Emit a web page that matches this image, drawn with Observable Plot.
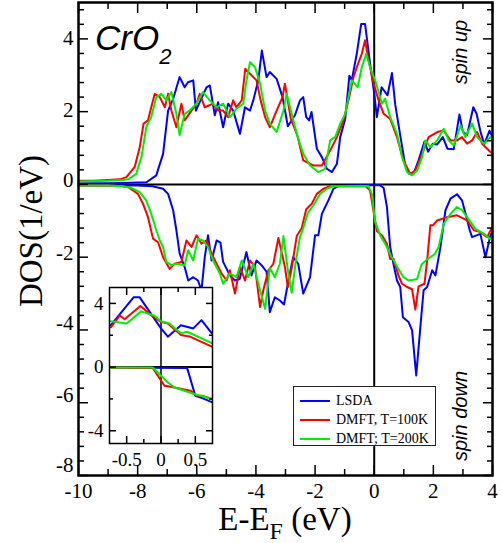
<!DOCTYPE html>
<html><head><meta charset="utf-8">
<script src="https://cdn.jsdelivr.net/npm/d3@7"></script>
<script src="https://cdn.jsdelivr.net/npm/@observablehq/plot@0.6"></script>
<style>
body{margin:0;background:#fff;color:#000;}
#wrap{position:relative;width:502px;height:543px;overflow:hidden;}
#wrap svg{position:absolute;}
.ov{position:absolute;white-space:nowrap;}
.serif{font-family:'Liberation Serif','Times New Roman',serif;}
.sans{font-family:'Liberation Sans',Arial,sans-serif;font-style:italic;}
</style></head><body><div id="wrap"></div>
<script>
// ---- series meta
const seriesNames = ["LSDA", "DMFT, T=100K", "DMFT; T=200K"];
const seriesColors = ["#0000ff", "#ff0000", "#00ee00"];

// ---- main panel: [E-E_F (eV), DOS (1/eV)]
const lsdaUp = [[-10,0.03],[-9,0.03],[-8.5,0.04],[-8,0.05],[-7.7,0.06],[-7.37,0.25],[-7.14,0.84],[-6.97,2.03],[-6.8,2.35],[-6.58,2.95],[-6.41,2.67],[-6.3,2.81],[-6.12,2.86],[-6.03,2.03],[-5.9,2.26],[-5.67,2.67],[-5.56,2.72],[-5.39,1.9],[-5.28,2.26],[-5.11,1.57],[-4.94,2.22],[-4.77,2.03],[-4.54,1.39],[-4.37,2.12],[-4.2,2.03],[-4.09,2.31],[-3.92,2.86],[-3.8,3.68],[-3.64,2.95],[-3.53,3.09],[-3.3,2.9],[-3.1,2.4],[-2.92,1.6],[-2.68,1.9],[-2.51,2.31],[-2.4,2.4],[-2.3,1.85],[-2.2,1.76],[-2.12,1.99],[-1.94,0.98],[-1.77,0.75],[-1.6,0.43],[-1.43,0.34],[-1.26,0.57],[-1.15,1.3],[-0.98,1.8],[-0.84,2.99],[-0.76,2.86],[-0.59,3.59],[-0.44,4.41],[-0.31,4.41],[-0.14,3.32],[0.0,2.5],[0.09,1.85],[0.25,2.67],[0.45,2.45],[0.6,3.06],[0.71,2.2],[0.88,1.35],[1.05,0.52],[1.18,0.29],[1.33,0.29],[1.5,0.66],[1.7,1.18],[1.82,0.9],[1.98,1.12],[2.13,1.1],[2.32,1.3],[2.48,0.98],[2.69,0.97],[2.88,1.92],[3.0,1.45],[3.14,1.35],[3.35,2.12],[3.46,1.95],[3.59,1.46],[3.72,1.1],[3.9,1.48],[4.0,1.3]];
const dmft100Up = [[-10,0.1],[-9.5,0.1],[-9,0.12],[-8.6,0.14],[-8.38,0.2],[-8.1,0.48],[-7.93,1.02],[-7.8,1.67],[-7.65,1.76],[-7.54,2.12],[-7.42,2.49],[-7.25,2.4],[-7.08,2.12],[-6.97,2.49],[-6.86,2.03],[-6.69,1.57],[-6.52,2.22],[-6.41,1.76],[-6.18,2.03],[-6.01,2.22],[-5.9,2.49],[-5.73,2.12],[-5.45,2.22],[-5.28,2.03],[-5.11,2.03],[-4.94,1.85],[-4.77,2.31],[-4.66,2.12],[-4.48,2.31],[-4.36,3.18],[-4.2,3.04],[-3.98,2.86],[-3.84,2.31],[-3.69,1.85],[-3.53,1.57],[-3.3,2.03],[-3.1,2.4],[-3.02,2.77],[-2.82,1.8],[-2.6,1.35],[-2.4,0.66],[-2.06,0.52],[-1.77,0.52],[-1.49,0.93],[-1.26,1.3],[-1.04,1.76],[-0.87,2.31],[-0.7,2.95],[-0.59,3.22],[-0.42,3.59],[-0.31,3.96],[-0.19,3.41],[-0.02,2.77],[0.15,2.31],[0.32,1.94],[0.54,1.8],[0.77,1.3],[0.99,0.66],[1.22,0.29],[1.39,0.38],[1.62,0.84],[1.84,1.3],[2.13,1.44],[2.35,1.48],[2.58,1.21],[2.8,1.21],[2.97,1.3],[3.14,1.12],[3.31,1.21],[3.48,1.44],[3.65,1.12],[3.93,0.89],[4.0,0.85]];
const dmft200Up = [[-10,0.08],[-9,0.1],[-8.5,0.12],[-8.3,0.15],[-8.05,0.29],[-7.87,0.75],[-7.71,1.57],[-7.54,1.85],[-7.37,2.4],[-7.2,2.49],[-7.03,2.31],[-6.86,2.54],[-6.69,1.94],[-6.58,1.35],[-6.41,1.94],[-6.24,2.03],[-6.01,2.22],[-5.79,2.54],[-5.56,2.31],[-5.33,2.12],[-5.11,2.22],[-4.88,1.85],[-4.66,2.08],[-4.43,2.22],[-4.32,2.86],[-4.2,3.36],[-4.03,3.22],[-3.86,2.77],[-3.69,2.03],[-3.53,1.67],[-3.3,1.44],[-3.07,2.03],[-2.96,2.49],[-2.79,1.94],[-2.62,1.39],[-2.4,0.84],[-2.17,0.52],[-1.89,0.34],[-1.66,0.43],[-1.49,1.21],[-1.32,1.3],[-1.15,1.67],[-0.98,1.94],[-0.76,2.86],[-0.56,2.67],[-0.42,3.22],[-0.27,3.59],[-0.14,3.22],[0.03,2.86],[0.15,2.54],[0.26,2.22],[0.37,2.35],[0.54,1.85],[0.77,1.39],[0.94,0.75],[1.11,0.34],[1.28,0.25],[1.45,0.38],[1.62,0.75],[1.73,1.21],[1.9,1.02],[2.13,1.21],[2.35,1.53],[2.52,1.21],[2.69,1.07],[2.92,1.62],[3.08,1.3],[3.31,1.67],[3.48,1.3],[3.71,1.12],[3.93,1.3],[4.0,1.25]];
const lsdaDown = [[-10,-0.02],[-8,-0.03],[-7.5,-0.05],[-7.14,-0.12],[-6.97,-0.26],[-6.8,-0.71],[-6.69,-1.26],[-6.58,-1.9],[-6.41,-2.27],[-6.29,-2.64],[-6.12,-2.55],[-5.96,-2.64],[-5.84,-2.91],[-5.73,-2.0],[-5.62,-1.4],[-5.5,-2.09],[-5.33,-1.54],[-5.2,-1.6],[-5.11,-2.13],[-4.88,-2.5],[-4.71,-2.64],[-4.55,-2.6],[-4.32,-1.86],[-4.15,-2.5],[-3.98,-2.09],[-3.81,-2.22],[-3.64,-2.4],[-3.53,-3.51],[-3.36,-3.1],[-3.19,-3.19],[-3.05,-3.3],[-2.9,-2.64],[-2.74,-2.0],[-2.57,-2.18],[-2.4,-3.0],[-2.17,-2.55],[-2.0,-1.4],[-1.89,-1.4],[-1.77,-0.81],[-1.55,-0.44],[-1.38,-0.12],[-1.2,-0.04],[-0.5,-0.02],[0.2,-0.02],[0.32,-0.1],[0.43,-0.62],[0.54,-1.72],[0.65,-2.18],[0.77,-2.64],[0.88,-2.82],[0.97,-3.65],[1.16,-3.78],[1.28,-4.01],[1.42,-5.25],[1.56,-3.92],[1.67,-2.91],[1.79,-2.82],[1.96,-2.36],[2.07,-2.5],[2.24,-1.72],[2.41,-0.71],[2.58,-0.39],[2.8,-0.27],[2.97,-0.44],[3.12,-0.9],[3.23,-1.26],[3.31,-1.45],[3.59,-1.36],[3.76,-2.0],[3.93,-1.4],[4.0,-1.3]];
const dmft100Down = [[-10,-0.03],[-9,-0.03],[-8.6,-0.04],[-8.3,-0.08],[-7.99,-0.26],[-7.82,-0.53],[-7.65,-0.9],[-7.48,-1.49],[-7.31,-1.59],[-7.14,-2.0],[-6.92,-2.32],[-6.75,-2.18],[-6.52,-2.13],[-6.35,-1.54],[-6.18,-1.72],[-6.01,-1.4],[-5.84,-1.63],[-5.67,-1.54],[-5.5,-1.9],[-5.33,-2.18],[-5.16,-2.45],[-4.99,-2.64],[-4.88,-2.36],[-4.71,-3.0],[-4.54,-2.27],[-4.37,-2.64],[-4.2,-2.09],[-4.03,-2.27],[-3.86,-3.37],[-3.75,-2.91],[-3.58,-2.36],[-3.41,-2.18],[-3.24,-1.47],[-3.02,-2.27],[-2.92,-2.82],[-2.79,-2.3],[-2.62,-1.42],[-2.45,-1.2],[-2.3,-0.68],[-2.11,-0.53],[-1.94,-0.26],[-1.72,-0.12],[-1.5,-0.05],[-0.3,-0.04],[-0.14,-0.17],[-0.02,-0.75],[0.09,-1.28],[0.26,-1.4],[0.43,-1.63],[0.54,-2.05],[0.65,-2.04],[0.82,-2.5],[0.94,-2.73],[1.11,-2.82],[1.28,-2.88],[1.39,-3.44],[1.5,-2.8],[1.7,-2.73],[1.79,-2.09],[1.9,-1.12],[1.99,-1.12],[2.13,-0.99],[2.46,-0.9],[2.8,-0.85],[3.14,-0.99],[3.37,-1.26],[3.59,-1.31],[3.82,-1.45],[3.99,-1.17]];
const dmft200Down = [[-10,-0.03],[-9,-0.03],[-8.5,-0.05],[-8.2,-0.1],[-7.93,-0.21],[-7.71,-0.44],[-7.54,-0.81],[-7.37,-1.26],[-7.25,-1.54],[-7.14,-1.72],[-7.03,-2.13],[-6.86,-2.22],[-6.69,-2.18],[-6.41,-2.22],[-6.29,-1.81],[-6.12,-2.09],[-5.96,-1.49],[-5.79,-1.54],[-5.62,-1.72],[-5.45,-2.09],[-5.22,-2.45],[-5.11,-2.73],[-4.88,-2.45],[-4.66,-2.55],[-4.48,-2.09],[-4.26,-2.55],[-4.09,-2.18],[-3.86,-2.91],[-3.69,-3.42],[-3.53,-2.3],[-3.36,-2.55],[-3.19,-2.18],[-3.07,-1.42],[-2.92,-2.36],[-2.79,-2.98],[-2.65,-2.1],[-2.51,-1.45],[-2.4,-1.2],[-2.25,-0.8],[-2.06,-0.58],[-1.83,-0.26],[-1.6,-0.12],[-1.4,-0.05],[-0.2,-0.04],[-0.08,-0.26],[0.03,-1.03],[0.2,-1.4],[0.37,-1.63],[0.56,-1.95],[0.8,-2.3],[0.99,-2.55],[1.16,-2.64],[1.33,-2.62],[1.45,-2.6],[1.6,-2.2],[1.79,-2.06],[2.04,-1.92],[2.18,-1.72],[2.35,-1.08],[2.58,-0.81],[2.8,-0.62],[2.97,-0.71],[3.14,-0.9],[3.42,-1.22],[3.71,-1.36],[3.93,-1.5],[4.0,-1.45]];

// ---- inset panel (zoom around E_F)
const insetLsdaUp = [[-0.73,2.63],[-0.4,4.38],[-0.31,4.38],[0,2.43],[0.1,1.91],[0.29,2.63],[0.47,2.43],[0.59,2.95],[0.74,2.12]];
const insetDmft100Up = [[-0.73,2.5],[-0.6,3.24],[-0.53,3.0],[-0.3,3.84],[-0.14,3.24],[0,2.84],[0.1,2.74],[0.29,2.02],[0.43,1.9],[0.74,1.29]];
const insetDmft200Up = [[-0.73,2.88],[-0.5,2.74],[-0.29,3.5],[-0.1,3.24],[0,2.88],[0.12,2.74],[0.29,2.12],[0.38,2.22],[0.74,1.5]];
const insetLsdaDown = [[-0.73,-0.02],[0.38,-0.05],[0.5,-1.8],[0.6,-1.95],[0.74,-2.2]];
const insetDmft100Down = [[-0.73,-0.02],[-0.12,-0.05],[0.05,-1.17],[0.14,-1.23],[0.43,-1.48],[0.52,-1.79],[0.6,-1.8],[0.74,-2.0]];
const insetDmft200Down = [[-0.73,-0.02],[-0.12,-0.03],[0.1,-0.97],[0.19,-1.27],[0.48,-1.69],[0.74,-2.0]];

// ---- ticks
const xMajor = [-10,-8,-6,-4,-2,0,2,4];
const xMinor = [-9,-7,-5,-3,-1,1,3];
const yMajor = [-8,-6,-4,-2,0,2,4];
const yLabelGroups = [[[4, 2], -1], [[0, -2], -4], [[-4, -6], -7], [[-8], -10]];
const yMinor = d3.range(-7.6, 5, 0.4).map(v => +v.toFixed(1)).filter(v => Math.abs(v % 2) > 1e-6);
const insetXMajor = [-0.5, 0, 0.5];
const insetXMinor = [-0.25, 0.25];
const insetYMajor = [-4, 0, 4];
const insetYMinor = [-2, 2];

const fmt = d => String(d);
function rows(list) {
  return list.flatMap(([pts, series, key]) => pts.map(([e, v]) => ({e, v, series, key})));
}
const mainRows = rows([
  [lsdaUp, seriesNames[0], "a"], [lsdaDown, seriesNames[0], "b"],
  [dmft100Up, seriesNames[1], "c"], [dmft100Down, seriesNames[1], "d"],
  [dmft200Up, seriesNames[2], "e"], [dmft200Down, seriesNames[2], "f"]
]);
const insetRows = rows([
  [insetLsdaUp, seriesNames[0], "a"], [insetLsdaDown, seriesNames[0], "b"],
  [insetDmft100Up, seriesNames[1], "c"], [insetDmft100Down, seriesNames[1], "d"],
  [insetDmft200Up, seriesNames[2], "e"], [insetDmft200Down, seriesNames[2], "f"]
]);

function tickMarks(xMaj, xMin, yMaj, yMin, big, small) {
  const out = [];
  for (const a of ["bottom", "top"]) {
    out.push(Plot.axisX({anchor: a, ticks: xMaj, tickSize: -big, fill: "none", label: null, strokeWidth: 1.5}));
    out.push(Plot.axisX({anchor: a, ticks: xMin, tickSize: -small, fill: "none", label: null, strokeWidth: 1.5}));
  }
  for (const a of ["left", "right"]) {
    out.push(Plot.axisY({anchor: a, ticks: yMaj, tickSize: -big, fill: "none", label: null, strokeWidth: 1.5}));
    out.push(Plot.axisY({anchor: a, ticks: yMin, tickSize: -small, fill: "none", label: null, strokeWidth: 1.5}));
  }
  return out;
}

const mainPlot = Plot.plot({
  width: 502, height: 543,
  marginLeft: 78, marginRight: 10, marginTop: 2, marginBottom: 68,
  x: {domain: [-10, 4], axis: null},
  y: {domain: [-8, 5], axis: null},
  color: {domain: seriesNames, range: seriesColors},
  style: {fontFamily: "'Liberation Serif','Times New Roman',serif", fontSize: "21px", background: "transparent", color: "black"},
  marks: [
    Plot.ruleY([0], {stroke: "black", strokeWidth: 2}),
    Plot.ruleX([0], {stroke: "black", strokeWidth: 2}),
    Plot.line(mainRows, {x: "e", y: "v", z: "key", stroke: "series", strokeWidth: 2}),
    ...tickMarks(xMajor, xMinor, yMajor, yMinor, 10, 6),
    Plot.axisX({anchor: "bottom", ticks: xMajor, tickSize: 0, tickPadding: 8, tickFormat: fmt, stroke: "none", label: null}),
    ...yLabelGroups.map(([t, dy]) => Plot.axisY({anchor: "left", ticks: t, tickSize: 0, tickPadding: 5, tickFormat: fmt, stroke: "none", label: null, dy})),
    Plot.frame({stroke: "black", strokeWidth: 2.5})
  ]
});

const insetPlot = Plot.plot({
  width: 140, height: 195,
  marginLeft: 29, marginRight: 8, marginTop: 7, marginBottom: 32,
  x: {domain: [-0.75, 0.75], axis: null},
  y: {domain: [-4.8, 5], axis: null},
  color: {domain: seriesNames, range: seriesColors},
  style: {fontFamily: "'Liberation Serif','Times New Roman',serif", fontSize: "19px", background: "transparent", color: "black", overflow: "visible"},
  marks: [
    Plot.frame({fill: "white"}),
    Plot.ruleY([0], {stroke: "black", strokeWidth: 2}),
    Plot.ruleX([0], {stroke: "black", strokeWidth: 1.5}),
    Plot.line(insetRows, {x: "e", y: "v", z: "key", stroke: "series", strokeWidth: 2}),
    ...tickMarks(insetXMajor, insetXMinor, insetYMajor, insetYMinor, 7, 4),
    Plot.axisX({anchor: "bottom", ticks: insetXMajor, tickSize: 0, tickPadding: 9, tickFormat: fmt, stroke: "none", label: null}),
    Plot.axisY({anchor: "left", ticks: insetYMajor, tickSize: 0, tickPadding: 6, tickFormat: fmt, stroke: "none", label: null}),
    Plot.frame({stroke: "black", strokeWidth: 1.5})
  ]
});

const wrap = document.getElementById("wrap");
mainPlot.style.left = "0px"; mainPlot.style.top = "0px";
insetPlot.style.left = "80px"; insetPlot.style.top = "280px";
wrap.appendChild(mainPlot);
wrap.appendChild(insetPlot);

function addDiv(html, css, cls) {
  const d = document.createElement("div");
  d.className = "ov " + cls;
  d.innerHTML = html;
  Object.assign(d.style, css);
  wrap.appendChild(d);
  return d;
}
// axis titles
addDiv("DOS(1/eV)", {left: "31px", top: "231px", fontSize: "33px", lineHeight: "33px", transform: "translate(-50%,-50%) rotate(-90deg)"}, "serif");
addDiv('E-E<span style="font-size:24px;position:relative;top:9px">F</span> (eV)', {left: "285px", top: "508px", fontSize: "33px", lineHeight: "22px", transform: "translateX(-50%)"}, "serif");
// annotations
addDiv('CrO<span style="font-size:22px;position:relative;top:14px">2</span>', {left: "95px", top: "20px", fontSize: "35px", lineHeight: "35px"}, "sans");
addDiv("spin up", {left: "460px", top: "52px", fontSize: "20px", lineHeight: "20px", transform: "translate(-50%,-50%) rotate(-90deg)"}, "sans");
addDiv("spin down", {left: "460px", top: "416px", fontSize: "20px", lineHeight: "20px", transform: "translate(-50%,-50%) rotate(-90deg)"}, "sans");

// legend
const leg = addDiv("", {left: "293px", top: "386px", width: "143px", height: "60px", boxSizing: "border-box", border: "1.5px solid #222", background: "#fff"}, "serif");
seriesNames.forEach((name, i) => {
  const row = document.createElement("div");
  Object.assign(row.style, {position: "absolute", left: "6px", top: (5 + i * 19) + "px", height: "17px", display: "flex", alignItems: "center", fontSize: "14px", lineHeight: "17px"});
  row.innerHTML = `<svg width="30" height="4" style="position:static;margin-right:6px"><line x1="0" y1="2" x2="30" y2="2" stroke="${seriesColors[i]}" stroke-width="2"/></svg><span>${name}</span>`;
  leg.appendChild(row);
});
</script></body></html>
